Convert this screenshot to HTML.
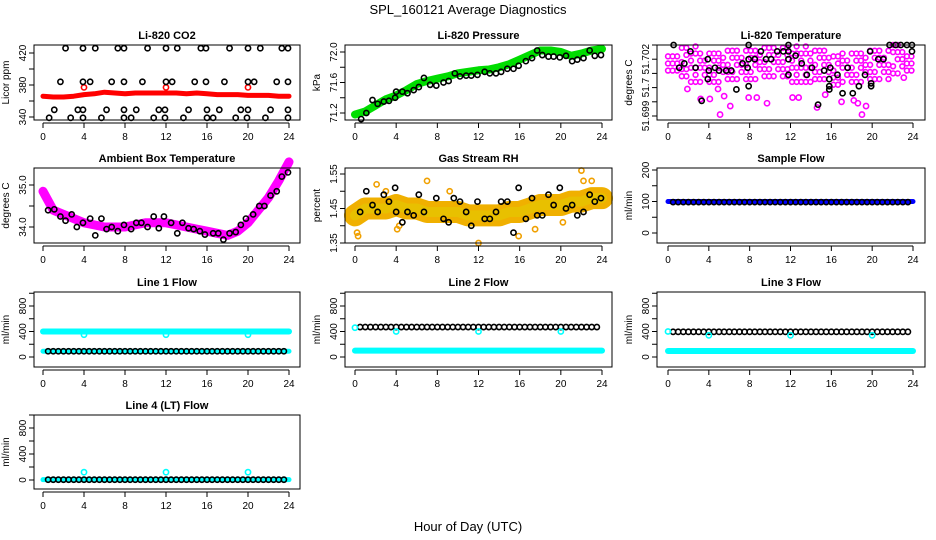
<!DOCTYPE html>
<html><head><meta charset="utf-8"><title>SPL_160121 Average Diagnostics</title>
<style>
html,body{margin:0;padding:0;background:#fff;}
svg{display:block;font-family:"Liberation Sans",sans-serif;}
</style></head>
<body>
<svg id="chart" width="936" height="540" viewBox="0 0 936 540" xmlns="http://www.w3.org/2000/svg">
<rect width="936" height="540" fill="#fff"/>
<text x="468" y="14" text-anchor="middle" font-size="13">SPL_160121  Average Diagnostics</text>
<text x="468" y="531" text-anchor="middle" font-size="13">Hour of Day (UTC)</text>
</svg>
<script>
// ---- data ----
const hours = [0,1,2,3,4,5,6,7,8,9,10,11,12,13,14,15,16,17,18,19,20,21,22,23,24];
const co2Band = [366,365,365,366,368,369,371,370,369,370,370,370,370,370,369,370,369,368,368,368,367,367,367,366,366];
const co2RedH = [4,12,20];
const co2RedV = [377,377,377];
const co2BlackH = [2.2,3.9,5.1,7.3,7.9,10.2,12.0,13.1,15.4,15.9,18.2,20.0,21.2,23.3,23.9,
 1.7,3.9,4.6,6.7,7.9,9.7,12.0,12.6,14.8,15.9,17.7,20.0,20.6,22.8,23.9,
 1.1,3.4,3.9,6.2,7.9,9.1,11.3,11.9,14.2,16.0,17.2,19.3,20.0,22.2,23.9,
 0.6,2.7,3.9,5.7,7.9,8.6,10.8,11.9,13.7,16.0,16.6,18.8,19.9,21.7,23.9];
const co2BlackV = [426,426,426,426,426,426,426,426,426,426,426,426,426,426,426,
 384,384,384,384,384,384,384,384,384,384,384,384,384,384,384,
 349,349,349,349,349,349,349,349,349,349,349,349,349,349,349,
 339,339,339,339,339,339,339,339,339,339,339,339,339,339,339];

const presBand = [71.18,71.22,71.3,71.38,71.43,71.5,71.58,71.62,71.65,71.68,71.72,71.74,71.76,71.77,71.8,71.84,71.9,71.96,72.02,72.02,72.0,71.95,71.98,72.02,72.04];
const presBlackH = [0.6,1.1,1.7,2.2,2.8,3.3,3.9,4.0,4.6,5.1,5.7,6.2,6.7,7.3,7.9,8.6,9.1,9.7,10.2,10.8,11.3,11.9,12.6,13.1,13.7,14.2,14.8,15.4,15.9,16.6,17.2,17.7,18.2,18.8,19.3,19.9,20.5,21.1,21.6,22.2,22.8,23.3,23.9];
const presBlackV = [71.12,71.2,71.37,71.32,71.35,71.36,71.4,71.48,71.48,71.46,71.5,71.54,71.66,71.57,71.56,71.6,71.62,71.72,71.68,71.69,71.69,71.7,71.74,71.72,71.72,71.74,71.78,71.78,71.82,71.88,71.92,72.02,71.96,71.94,71.94,71.93,71.95,71.88,71.9,71.92,72.02,71.95,71.96];

const tempTickLabels = ["51.699","","51.7","","51.702",""];
const tempMagHi = [5,5,5,4.6,4.6,5,5,5,5,5,5,5,5,5,4.6,4.6,4.6,4.6,4.6,5,5,5,5,5,5];
const tempMagLo = [3.2,2.8,2.4,2.4,2.4,2.6,2.6,2.6,2.6,2.8,2.8,2.8,2.4,2.4,2.6,2.6,2.2,2.4,2.4,2.6,2.6,2.6,3.0,3.2,3.4];
const tempOutH = [1.9,3.2,4.1,4.9,5.1,5.5,6.1,7.9,8.7,9.7,12.2,12.8,14.6,15.4,17.0,18.2,18.6,19.0,19.4,23.1];
const tempOutV = [1.9,1.2,1.2,1.9,0.1,1.4,0.7,1.3,1.3,0.9,1.3,1.3,0.6,1.5,1.0,1.1,0.9,0.1,0.7,2.7];
const tempBlackH = [0.55,2.2,1.1,1.6,2.7,3.3,3.9,3.9,4.0,4.6,5.0,5.7,6.2,6.7,7.3,7.8,7.9,7.9,7.9,8.5,9.1,9.6,10.1,10.7,11.3,11.8,11.8,11.8,11.8,12.5,13.1,13.6,14.1,14.7,15.3,15.8,15.8,15.8,15.9,16.6,17.1,17.6,18.1,18.7,19.3,19.8,19.9,19.9,20.6,21.1,21.7,22.3,22.8,23.4,23.9,23.9];
const tempBlackV = [5.0,4.55,3.4,3.7,3.4,1.07,4.0,2.6,3.2,3.4,3.2,3.2,3.2,1.87,3.7,3.4,5.0,4.0,2.1,4.0,4.55,4.0,4.0,4.55,4.55,5.0,4.55,4.0,2.9,4.25,3.7,2.9,3.4,0.8,3.2,2.6,2.1,1.87,3.4,2.9,1.6,3.4,1.6,2.1,2.9,4.55,2.3,2.1,4.0,4.0,5.0,5.0,5.0,5.0,5.0,4.55];

const ambBand = [34.85,34.4,34.3,34.2,34.1,34.05,34.0,34.0,34.0,34.05,34.1,34.1,34.1,34.05,34.0,33.95,33.9,33.85,33.8,33.9,34.1,34.4,34.7,35.1,35.55];
const ambBlackH = [0.5,1.1,1.7,2.2,2.8,3.3,3.9,4.6,5.1,5.7,6.2,6.7,7.3,7.9,8.6,9.1,9.6,10.2,10.8,11.3,11.8,12.5,13.1,13.6,14.2,14.7,15.3,15.8,16.6,17.1,17.6,18.2,18.8,19.3,19.8,20.5,21.1,21.6,22.2,22.8,23.3,23.9];
const ambBlackV = [34.4,34.42,34.25,34.15,34.3,34.0,34.1,34.2,33.8,34.2,33.95,34.0,33.9,34.05,33.95,34.1,34.1,34.0,34.25,33.97,34.25,34.1,33.85,34.1,33.97,33.95,33.9,33.82,33.85,33.85,33.7,33.85,33.88,34.05,34.2,34.3,34.5,34.5,34.75,34.85,35.2,35.3];

const rhBand = [1.43,1.45,1.45,1.45,1.46,1.45,1.45,1.44,1.44,1.44,1.44,1.43,1.43,1.43,1.43,1.44,1.44,1.45,1.46,1.46,1.46,1.47,1.47,1.48,1.48];
const rhOutH = [0.2,0.3,2.1,3.0,4.1,4.3,7.0,9.2,12.0,15.9,17.5,20.2,22.0,22.2,23.0];
const rhOutV = [1.38,1.37,1.52,1.5,1.39,1.4,1.53,1.5,1.35,1.37,1.39,1.41,1.56,1.53,1.53];
const rhBlackH = [0.5,1.1,1.7,2.2,2.8,3.3,3.9,4.0,4.6,5.1,5.7,6.2,6.7,7.9,8.6,9.1,9.6,10.2,10.8,11.3,11.9,12.6,13.1,13.7,14.2,14.8,15.4,15.9,16.6,17.2,17.7,18.2,18.8,19.3,19.9,20.5,21.1,21.6,22.2,22.8,23.3,23.9];
const rhBlackV = [1.44,1.5,1.46,1.44,1.49,1.47,1.51,1.44,1.41,1.44,1.43,1.49,1.44,1.48,1.42,1.41,1.48,1.47,1.44,1.4,1.47,1.42,1.42,1.44,1.47,1.47,1.38,1.51,1.42,1.48,1.43,1.43,1.49,1.46,1.51,1.45,1.46,1.43,1.44,1.49,1.47,1.48];

const sampleBlue = [100,100,100,100,100,100,100,100,100,100,100,100,100,100,100,100,100,100,100,100,100,100,100,100,100];
const sampleBlack = [98,98,98,98,98,98,98,98,98,98,98,98,98,98,98,98,98,98,98,98,98,98,98,98,98];

const line1Cyan = [400,400,400,400,400,400,400,400,400,400,400,400,400,400,400,400,400,400,400,400,400,400,400,400,400];
const line1Low = [90,90,90,90,90,90,90,90,90,90,90,90,90,90,90,90,90,90,90,90,90,90,90,90,90];
const line1Black = [90,90,90,90,90,90,90,90,90,90,90,90,90,90,90,90,90,90,90,90,90,90,90,90,90];
const line1DipV = [350,350,350];
const line2Cyan = [100,100,100,100,100,100,100,100,100,100,100,100,100,100,100,100,100,100,100,100,100,100,100,100,100];
const line2Black = [470,470,470,470,470,470,470,470,470,470,470,470,470,470,470,470,470,470,470,470,470,470,470,470,470];
const line2DipV = [400,400,400];
const line3Cyan = [95,95,95,95,95,95,95,95,95,95,95,95,95,95,95,95,95,95,95,95,95,95,95,95,95];
const line3Black = [395,395,395,395,395,395,395,395,395,395,395,395,395,395,395,395,395,395,395,395,395,395,395,395,395];
const line3DipV = [340,340,340];
const line4Cyan = [5,5,5,5,5,5,5,5,5,5,5,5,5,5,5,5,5,5,5,5,5,5,5,5,5];
const line4Black = [5,5,5,5,5,5,5,5,5,5,5,5,5,5,5,5,5,5,5,5,5,5,5,5,5];
const line4SpikeV = [120,120,120];
const dipHours = [4,12,20];
const xTicks = [0,4,8,12,16,20,24];

// ---- drawing ----
const svg = document.getElementById('chart');
const NS = 'http://www.w3.org/2000/svg';
function mk(tag, attrs, parent){ const e=document.createElementNS(NS,tag); for(const k in attrs) e.setAttribute(k,attrs[k]); (parent||svg).appendChild(e); return e; }
const cols = [{x0:34,x1:300,h0:43,h24:289},{x0:345,x1:612,h0:355,h24:602},{x0:657,x1:925,h0:668,h24:913}];
const rows = [{y0:45,y1:120},{y0:168,y1:243},{y0:292,y1:367},{y0:415,y1:489}];

function panel(name, c, r, title, ytitle, v1, p1, v2, p2, ticks, labels){
  const C=cols[c], R=rows[r];
  const g=mk('g',{});
  
  
  const P={g, sx:h=>C.h0+(C.h24-C.h0)*h/24, sy:v=>p1+(v-v1)*(p2-p1)/(v2-v1), C, R};
  const cg=mk('g',{},g);
  P.cg=cg;
  const t=mk('text',{x:(C.x0+C.x1)/2,y:R.y0-6,'text-anchor':'middle','font-size':11,'font-weight':'bold'},g);
  t.textContent=title;
  
  
  const yt=mk('text',{transform:`translate(${C.x0-25},${(R.y0+R.y1)/2}) rotate(-90)`,'text-anchor':'middle','font-size':10},g);
  yt.textContent=ytitle;
  
  
  const ya=mk('g',{},g);
  
  
  const ys=ticks.map(P.sy);
  mk('line',{x1:C.x0,x2:C.x0,y1:Math.min(...ys),y2:Math.max(...ys),stroke:'#000'},ya);
  ticks.forEach((v,i)=>{ const y=P.sy(v); mk('line',{x1:C.x0-5,x2:C.x0,y1:y,y2:y,stroke:'#000'},ya);
    if(labels[i]){ const tl=mk('text',{transform:`translate(${C.x0-8},${y}) rotate(-90)`,'text-anchor':'middle','font-size':10},ya); tl.textContent=labels[i]; } });
  const xa=mk('g',{},g);
  
  
  mk('line',{x1:P.sx(0),x2:P.sx(24),y1:R.y1+3,y2:R.y1+3,stroke:'#000'},xa);
  xTicks.forEach(h=>{ const x=P.sx(h); mk('line',{x1:x,x2:x,y1:R.y1+3,y2:R.y1+8,stroke:'#000'},xa);
    const tl=mk('text',{x:x,y:R.y1+20,'text-anchor':'middle','font-size':10},xa); tl.textContent=h; });
  return P;
}
function finish(P){ mk('rect',{x:P.C.x0,y:P.R.y0,width:P.C.x1-P.C.x0,height:P.R.y1-P.R.y0,fill:'none',stroke:'#000'},P.g); }
function band(P,vals,color,w,name){
  const pts=vals.map((v,i)=>P.sx(hours[i])+','+P.sy(v)).join(' ');
  const l=mk('polyline',{points:pts,fill:'none',stroke:color,'stroke-width':w,'stroke-linejoin':'round','stroke-linecap':'round'},P.cg);
  
  
}
function pts(P,hs,vs,color,name,r,sw){
  const g=mk('g',{},P.cg);
  
  
  hs.forEach((h,i)=>mk('circle',{cx:P.sx(h),cy:P.sy(vs[i]),r:r||2.6,fill:'none',stroke:color,'stroke-width':sw||1.6},g));
}
function chain(P,vals,color,name,start){
  const g=mk('g',{},P.cg);
  
  
  for(let h=start;h<=23.9;h+=0.5){ const v=vals[Math.round(h)]; mk('circle',{cx:P.sx(h),cy:P.sy(v),r:2.6,fill:'none',stroke:color,'stroke-width':1.6},g); }
}

let P=panel('co2',0,0,'Li-820 CO2','Licor ppm',420,53,340,117,[340,360,380,400,420],['340','','380','','420']);
band(P,co2Band,'#f00',5,'co2-red-series');
pts(P,co2RedH,co2RedV,'#f00','co2-red-points');
pts(P,co2BlackH,co2BlackV,'#000','co2-black-points');
finish(P);
P=panel('pressure',1,0,'Li-820 Pressure','kPa',72.0,52,71.2,113,[71.2,71.4,71.6,71.8,72.0],['71.2','','71.6','','72.0']);
band(P,presBand,'#0d0',8,'pressure-green-series');
pts(P,presBlackH,presBlackV,'#000','pressure-black-points');
finish(P);
P=panel('li820-temp',2,0,'Li-820 Temperature','degrees C',0,116,5,45,[0,1,2,3,4,5],tempTickLabels);
{ const g=mk('g',{},P.cg);  
  let k=0;
  for(let h=0;h<24;h+=0.45){ const i=Math.floor(h); const hi=tempMagHi[i], lo=tempMagLo[i];
    for(let v=lo; v<=hi+0.01; v+=0.5){ k++; if(k%4===0) continue;
      mk('circle',{cx:P.sx(h),cy:P.sy(v),r:2.4,fill:'none',stroke:'#f0f','stroke-width':1.6},g); } } }
pts(P,tempOutH,tempOutV,'#f0f','temp-magenta-outliers');
pts(P,tempBlackH,tempBlackV,'#000','temp-black-points');
finish(P);
P=panel('ambient',0,1,'Ambient Box Temperature','degrees C',35,185,34,227,[34,34.5,35],['34.0','','35.0']);
band(P,ambBand,'#f0f',9,'ambient-magenta-series');
pts(P,ambBlackH,ambBlackV,'#000','ambient-black-points');
finish(P);
P=panel('gas-rh',1,1,'Gas Stream RH','percent',1.55,174,1.35,243,[1.35,1.4,1.45,1.5,1.55],['1.35','','1.45','','1.55']);
band(P,rhBand,'#f0b000',22,'rh-orange-series');
band(P,rhBand,'#e8c000',10,'rh-yellow-core');
pts(P,rhOutH,rhOutV,'#f0a000','rh-outliers');
pts(P,rhBlackH,rhBlackV,'#000','rh-black-points');
finish(P);
P=panel('sample-flow',2,1,'Sample Flow','ml/min',200,170,0,233,[0,50,100,150,200],['0','','100','','200']);
band(P,sampleBlue,'#00f',5,'sample-blue-series');
chain(P,sampleBlack,'#000','sample-black-points',0.5);
finish(P);
const fT=[0,200,400,600,800,1000], fL=['0','','400','','800',''];
P=panel('line1-flow',0,2,'Line 1 Flow','ml/min',800,306,0,357,fT,fL);
band(P,line1Cyan,'#0ff',6,'line1-cyan-series');
band(P,line1Low,'#0ff',5,'line1-cyan-low');
chain(P,line1Black,'#000','line1-black-points',0.5);
pts(P,dipHours,line1DipV,'#0ff','line1-cyan-dips');
finish(P);
P=panel('line2-flow',1,2,'Line 2 Flow','ml/min',800,306,0,357,fT,fL);
band(P,line2Cyan,'#0ff',6,'line2-cyan-series');
chain(P,line2Black,'#000','line2-black-points',0.5);
pts(P,dipHours,line2DipV,'#0ff','line2-cyan-dips');
pts(P,[0],[460],'#0ff','line2-cyan-start');
finish(P);
P=panel('line3-flow',2,2,'Line 3 Flow','ml/min',800,306,0,357,fT,fL);
band(P,line3Cyan,'#0ff',6,'line3-cyan-series');
chain(P,line3Black,'#000','line3-black-points',0.5);
pts(P,dipHours,line3DipV,'#0ff','line3-cyan-dips');
pts(P,[0],[400],'#0ff','line3-cyan-start');
finish(P);
P=panel('line4-flow',0,3,'Line 4 (LT) Flow','ml/min',800,428,0,480,fT,fL);
band(P,line4Cyan,'#0ff',5,'line4-cyan-series');
chain(P,line4Black,'#000','line4-black-points',0.5);
pts(P,dipHours,line4SpikeV,'#0ff','line4-cyan-spikes');
finish(P);
</script>
</body></html>
